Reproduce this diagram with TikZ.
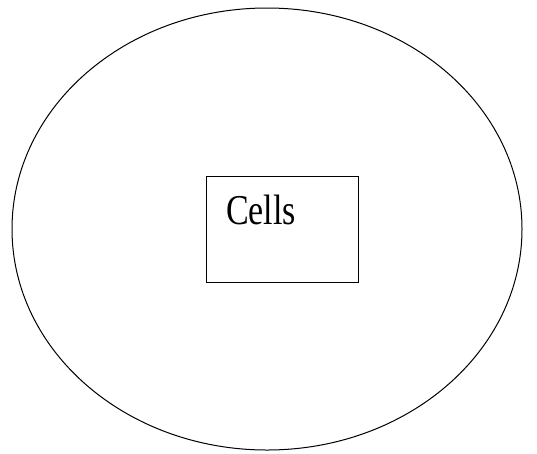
\documentclass[tikz,border=0pt]{standalone}
\usepackage{fontspec}
\setmainfont{Liberation Serif}
\usetikzlibrary{shapes.geometric}
\begin{document}
\begin{tikzpicture}[x=1pt,y=-1pt,
  outline/.style={draw=black,line width=1pt},
  celltext/.style={inner sep=0pt,anchor=base west,font=\fontsize{34}{34}\selectfont}]
\useasboundingbox (0,0) rectangle (537,453);
\node[outline,ellipse,minimum width=510pt,minimum height=442pt,inner sep=0pt] (world) at (267,229) {};
\node[outline,rectangle,minimum width=152pt,minimum height=106pt,inner sep=0pt] (box) at (282,229) {};
\node[celltext] (cells) at (226,224) {\scalebox{1}[1.25]{Cells}};
\end{tikzpicture}
\end{document}
